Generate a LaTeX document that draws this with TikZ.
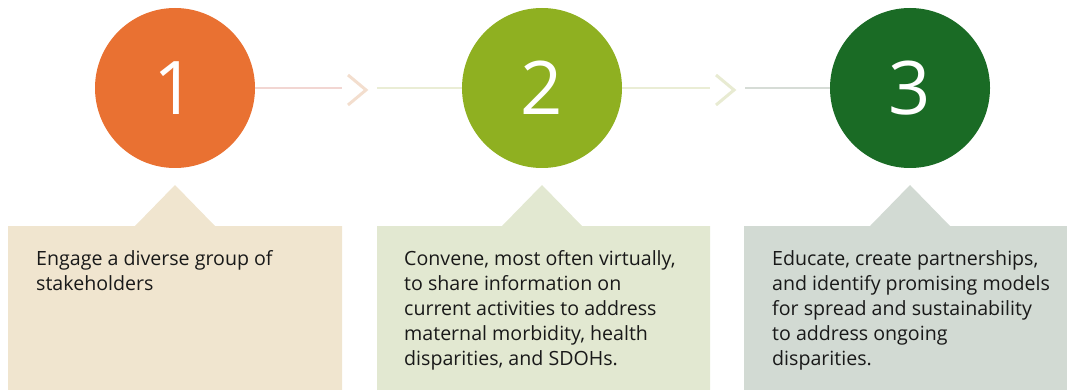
\documentclass[tikz,border=0pt]{standalone}
\usepackage{fontspec}
\setmainfont{Open Sans}
\usetikzlibrary{positioning}
\definecolor{stepone}{HTML}{E97132}
\definecolor{steptwo}{HTML}{8FB021}
\definecolor{stepthree}{HTML}{1A6B25}
\definecolor{boxone}{HTML}{F0E5CF}
\definecolor{boxtwo}{HTML}{E2E8D1}
\definecolor{boxthree}{HTML}{D2DAD3}
\definecolor{lineone}{HTML}{F2D6D2}
\definecolor{linetwo}{HTML}{EAEDD5}
\definecolor{linethree}{HTML}{D6DCD6}
\definecolor{chevone}{HTML}{F3DECE}
\definecolor{chevtwo}{HTML}{E8EBD2}
\tikzset{
  stepcircle/.style={circle, inner sep=0pt, minimum size=160pt, text=white,
    font=\fontsize{74}{74}\selectfont},
  link/.style={line width=2pt},
  chev/.style={line width=3pt},
  desc/.style={anchor=north west, inner sep=0pt, align=left, text=black!90,
    font=\fontsize{19.6}{25}\selectfont}
}
\begin{document}
\begin{tikzpicture}[x=1pt,y=-1pt]
  \useasboundingbox (0,0) rectangle (1067,390);

  \node[stepcircle, fill=stepone] (c1) at (175,88) {1};
  \node[stepcircle, fill=steptwo] (c2) at (542,88) {2};
  \node[stepcircle, fill=stepthree] (c3) at (910,88) {3};

  % connectors and chevrons
  \coordinate (l1) at (342,88);
  \coordinate (r1) at (377,88);
  \coordinate (v1) at (357,90);
  \coordinate (l2) at (710,88);
  \coordinate (r2) at (745,88);
  \coordinate (v2) at (725,90);

  \draw[link, lineone] (c1) -- (l1);
  \draw[link, linetwo] (r1) -- (c2);
  \draw[link, linetwo] (c2) -- (l2);
  \draw[link, linethree] (r2) -- (c3);

  \draw[chev, chevone] ([xshift=-9pt,yshift=15pt]v1) -- ([xshift=9pt]v1) -- ([xshift=-9pt,yshift=-15pt]v1);
  \draw[chev, chevtwo] ([xshift=-9pt,yshift=15pt]v2) -- ([xshift=9pt]v2) -- ([xshift=-9pt,yshift=-15pt]v2);

  % boxes
  \fill[boxone] (8,226) -- (135,226) -- (175,185) -- (215,226) -- (342,226) -- (342,390) -- (8,390) -- cycle;
  \fill[boxtwo] (377,226) -- (502,226) -- (542,185) -- (582,226) -- (710,226) -- (710,390) -- (377,390) -- cycle;
  \fill[boxthree] (744,226) -- (870,226) -- (910,185) -- (950,226) -- (1067,226) -- (1067,390) -- (744,390) -- cycle;

  \node[desc] (t1) at (36,250) {Engage a diverse group of\\stakeholders};
  \node[desc] (t2) at (404,250) {Convene, most often virtually,\\to share information on\\current activities to address\\maternal morbidity, health\\disparities, and SDOHs.};
  \node[desc] (t3) at (772,250) {Educate, create partnerships,\\and identify promising models\\for spread and sustainability\\to address ongoing\\disparities.};
\end{tikzpicture}
\end{document}
